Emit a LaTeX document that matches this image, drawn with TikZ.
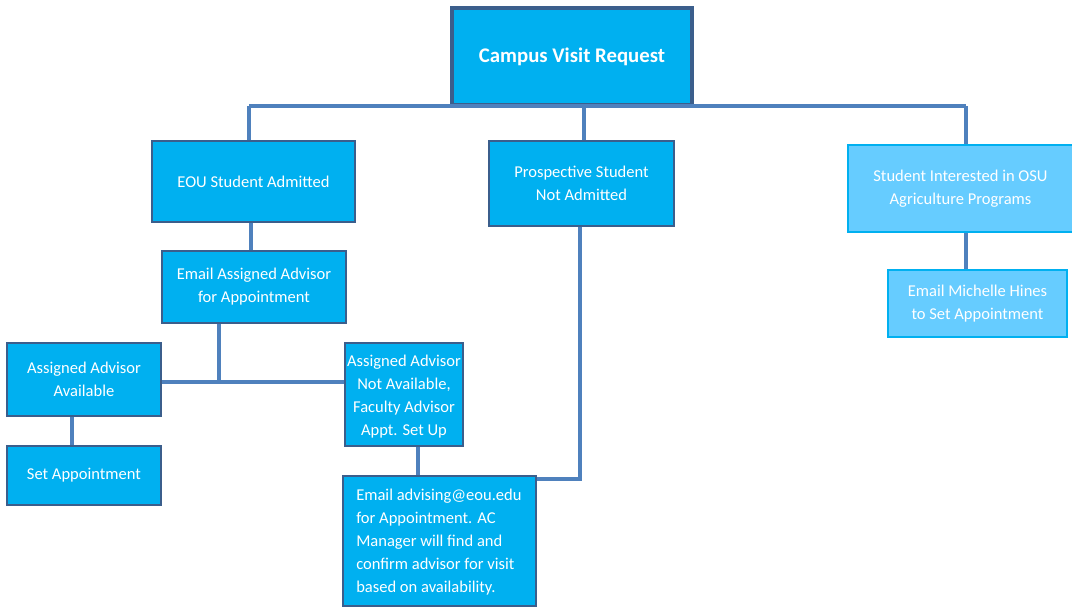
\documentclass[tikz,border=0pt]{standalone}
\usepackage{fontspec}
\setmainfont{Carlito}
\usetikzlibrary{fit,shadows}
\definecolor{boxfill}{HTML}{00B0F0}
\definecolor{boxline}{HTML}{3B5E8C}
\definecolor{conn}{HTML}{4F81BD}
\definecolor{lightfill}{HTML}{66CCFF}
\definecolor{lightline}{HTML}{00B0F0}
\tikzset{
  box/.style={draw=boxline, line width=2pt, fill=boxfill, inner sep=0pt,
    drop shadow={opacity=0.2, shadow xshift=1pt, shadow yshift=-1pt}},
  lbox/.style={box, draw=lightline, fill=lightfill},
  txt/.style={text=white, align=center, inner sep=0pt,
    font=\fontsize{12.4}{17.25}\selectfont},
  conn/.style={draw=conn, line width=2.5pt},
}
\begin{document}
\begin{tikzpicture}[x=0.75pt,y=-0.75pt]
\useasboundingbox (0,0) rectangle (1072,608);
\coordinate (tl) at (249,106);
\coordinate (tm) at (584,106);
\coordinate (tr) at (966,106);
\coordinate (sp) at (219,382);
\coordinate (pc) at (580,479);

\node[box, line width=2.4pt, fit={(452,8) (692,105)}] (cvr) {};
\node[txt, font=\fontsize{15.6}{19}\selectfont\bfseries] (cvrt) at (cvr.center) {Campus Visit Request};
\node[box, fit={(152,141) (355,222)}] (eou) {};
\node[txt] (eout) at (eou.center) {EOU Student Admitted};
\node[box, fit={(489,141) (674,226)}] (pro) {};
\node[txt] (prot) at (pro.center) {Prospective Student\\Not Admitted};
\node[lbox, fit={(848,145) (1073,232)}] (osu) {};
\node[txt] (osut) at (osu.center) {Student Interested in OSU\\Agriculture Programs};
\node[lbox, fit={(888,270) (1067,337)}] (mic) {};
\node[txt] (mict) at (mic.center) {Email Michelle Hines\\to Set Appointment};
\node[box, fit={(162,251) (346,323)}] (ema) {};
\node[txt] (emat) at (ema.center) {Email Assigned Advisor\\for Appointment};
\node[box, fit={(7,343) (161,416)}] (ava) {};
\node[txt] (avat) at (ava.center) {Assigned Advisor\\Available};
\node[box, fit={(7,446) (161,505)}] (set) {};
\node[txt] (sett) at (set.center) {Set Appointment};
\node[box, fit={(345,343) (463,446)}] (nav) {};
\node[txt, yshift=-1.5pt] (navt) at (nav.center) {Assigned Advisor\\Not Available,\\Faculty Advisor\\Appt. Set Up};
\node[box, fit={(343,476) (536,606)}] (adv) {};
\node[txt, anchor=west, align=left, yshift=-0.75pt] (advt) at (356,541) {Email advising@eou.edu\\for Appointment. AC\\Manager will find and\\confirm advisor for visit\\based on availability.};

\draw[conn] (tl) -- (tr);
\draw[conn] (tl) -- (tl |- eou.north);
\draw[conn] (tm) -- (tm |- pro.north);
\draw[conn] (tr) -- (tr |- osu.north);
\draw[conn] (eou.south -| 251,0) -- (251,0 |- ema.north);
\draw[conn] (sp |- ema.south) -- (sp);
\draw[conn] (ava.east |- sp) -- (nav.west |- sp);
\draw[conn] (ava.south -| 72,0) -- (72,0 |- set.north);
\draw[conn] (nav.south -| 418,0) -- (418,0 |- adv.north);
\draw[conn] (pro.south -| pc) -- (pc) -- (adv.east |- pc);
\draw[conn] (osu.south -| 966,0) -- (966,0 |- mic.north);
\end{tikzpicture}
\end{document}
